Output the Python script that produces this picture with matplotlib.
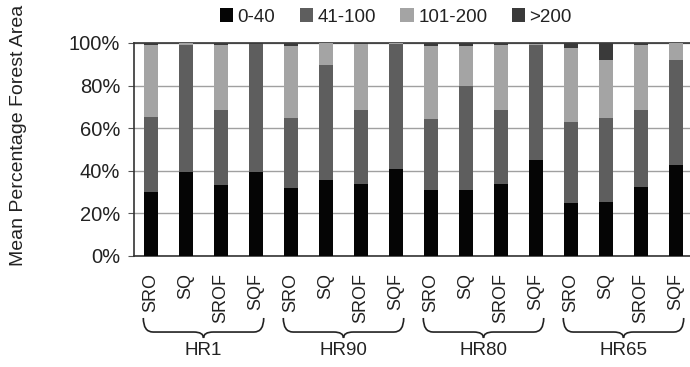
import matplotlib
matplotlib.use('Agg')
import matplotlib.pyplot as plt
from matplotlib.path import Path
from matplotlib.patches import PathPatch
import matplotlib.transforms as mtransforms
import numpy as np

plt.rcParams['font.family'] = ['Liberation Sans', 'DejaVu Sans']

# data (percent of forest area per patch-size class)
groups = ['HR1', 'HR90', 'HR80', 'HR65']
scenarios = ['SRO', 'SQ', 'SROF', 'SQF']
classes = ['0-40', '41-100', '101-200', '>200']

v_0_40 = [30.2, 39.3, 33.1, 39.3, 32.1, 35.7, 33.9, 40.8,
          31.0, 31.0, 33.7, 45.1, 24.8, 25.5, 32.6, 42.8]
v_41_100 = [35.0, 59.9, 35.6, 60.2, 32.9, 54.1, 34.8, 58.8,
            33.3, 48.6, 34.6, 54.1, 37.9, 39.2, 35.7, 49.0]
v_101_200 = [34.0, 0.8, 30.5, 0.2, 33.7, 10.2, 30.8, 0.2,
             34.4, 19.1, 30.9, 0.3, 34.9, 27.5, 30.9, 8.2]
v_200 = [0.8, 0.0, 0.8, 0.3, 1.3, 0.0, 0.5, 0.2,
         1.3, 1.3, 0.8, 0.5, 2.4, 7.8, 0.8, 0.0]

colors = ['#050505', '#5e5e5e', '#a4a4a4', '#3a3a3a']
txt = '#222222'

fig = plt.figure(figsize=(6.9, 3.67), dpi=100)
ax = fig.add_axes([0.1942, 0.3025, 0.8058, 0.5804])

labels = [s for g in groups for s in scenarios]
x = np.arange(len(labels))
bottom = np.zeros(len(labels))
for vals, c, name in zip([v_0_40, v_41_100, v_101_200, v_200], colors, classes):
    ax.bar(x, vals, width=0.4, bottom=bottom, color=c, label=name, zorder=3)
    bottom += np.array(vals)

ax.set_ylim(0, 100)
ax.set_xlim(-0.486, 15.4)
ax.set_yticks(np.arange(0, 101, 20))
ax.set_yticklabels([f'{v}%' for v in range(0, 101, 20)], fontsize=14.5, color=txt)
ax.set_xticks(x)
ax.set_xticklabels(labels, rotation=90, fontsize=13, color=txt)
ax.tick_params(axis='x', length=0, pad=12)
ax.tick_params(axis='y', length=4, pad=6, color='#555555')
ax.yaxis.grid(True, color='#a0a0a0', lw=1, zorder=0)
for s in ['left', 'bottom', 'top']:
    ax.spines[s].set_color('#333333')
    ax.spines[s].set_linewidth(1.2)
ax.spines['right'].set_visible(False)

fig.text(0.027, 1 - 135 / 367, 'Mean Percentage Forest Area', rotation=90,
         ha='center', va='center', fontsize=14, color=txt)

leg = ax.legend(loc='center', bbox_to_anchor=(0.471, 1.122), ncol=4, frameon=False,
                fontsize=13.5, handlelength=0.7, handleheight=0.7, handletextpad=0.25,
                columnspacing=1.3, labelcolor=txt)

# braces under each group
trans = mtransforms.blended_transform_factory(ax.transData, ax.transAxes)
yt, ym, yb = -0.291, -0.357, -0.385
r = 0.28
for gi, g in enumerate(groups):
    x0 = gi * 4 - 0.22
    x1 = gi * 4 + 3 + 0.22
    xm = gi * 4 + 1.5
    verts = [(x0, yt), (x0, ym), (x0 + r, ym), (xm - r, ym), (xm, ym), (xm, yb),
             (xm, ym), (xm + r, ym), (x1 - r, ym), (x1, ym), (x1, yt)]
    codes = [Path.MOVETO, Path.CURVE3, Path.CURVE3, Path.LINETO, Path.CURVE3, Path.CURVE3,
             Path.CURVE3, Path.CURVE3, Path.LINETO, Path.CURVE3, Path.CURVE3]
    patch = PathPatch(Path(verts, codes), transform=trans, fill=False,
                      lw=1.2, color='#222222', clip_on=False)
    ax.add_patch(patch)
    ax.text(xm, -0.405, g, transform=trans, ha='center', va='top',
            fontsize=13.5, color=txt)

fig.savefig('out.png', dpi=100)
